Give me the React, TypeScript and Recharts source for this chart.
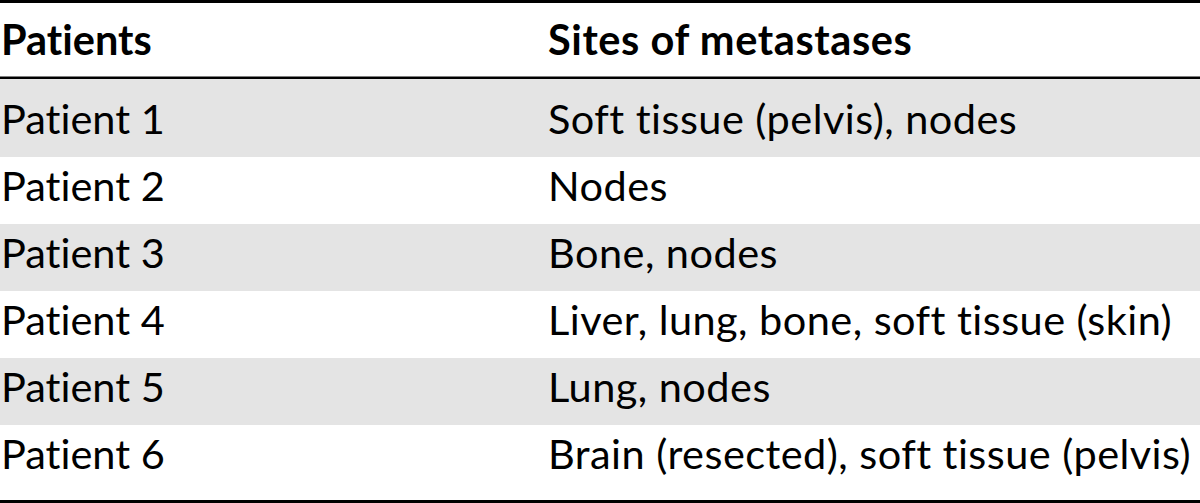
import { Bar, BarChart, Cell, LabelList, XAxis, YAxis } from "recharts";

const headers = ["Patients", "Sites of metastases"];
const patients = ["Patient 1", "Patient 2", "Patient 3", "Patient 4", "Patient 5", "Patient 6"];
const sites = [
  "Soft tissue (pelvis), nodes",
  "Nodes",
  "Bone, nodes",
  "Liver, lung, bone, soft tissue (skin)",
  "Lung, nodes",
  "Brain (resected), soft tissue (pelvis)",
];

const FONT = "Lato, 'Open Sans', sans-serif";
const FONT_SIZE = 41.5;
const SITE_X = 548;
const STRIPE = "#e4e4e4";
const noLig = { fontVariantLigatures: "none" } as const;

const rows = patients.map((p, i) => ({ patient: p, site: sites[i], band: 1 }));

// first stripe runs up under the header rule
function Stripe(props: any) {
  const { x, y, width, height, fill, index } = props;
  const top = index === 0 ? y - 11 : y;
  return <rect x={x} y={top} width={width} height={height + (y - top)} fill={fill} />;
}

function cellText(col: number) {
  return (props: any) => {
    const { x, y, height, value } = props;
    return (
      <text
        x={col === 0 ? x + 1 : x + SITE_X}
        y={y + height / 2 + 10}
        fontFamily={FONT}
        fontSize={FONT_SIZE}
        letterSpacing={col === 0 ? 0 : 0.45}
        fill="#000"
        style={noLig}
      >
        {value}
      </text>
    );
  };
}

export default function App() {
  return (
    <div style={{ position: "absolute", left: 0, top: 0, background: "#fff" }}>
      <BarChart
        width={1200}
        height={503}
        data={rows}
        layout="vertical"
        margin={{ top: 90, right: 0, bottom: 11, left: 0 }}
        barCategoryGap={0}
      >
        <XAxis type="number" domain={[0, 1]} hide />
        <YAxis type="category" dataKey="patient" hide />
        <Bar dataKey="band" isAnimationActive={false} shape={Stripe}>
          {rows.map((_, i) => (
            <Cell key={i} fill={i % 2 === 0 ? STRIPE : "#fff"} />
          ))}
          <LabelList dataKey="patient" content={cellText(0)} />
          <LabelList dataKey="site" content={cellText(1)} />
        </Bar>
        <text x={1} y={55} fontFamily={FONT} fontSize={FONT_SIZE} fontWeight={700} fill="#000" style={noLig}>
          {headers[0]}
        </text>
        <text
          x={SITE_X}
          y={55}
          fontFamily={FONT}
          fontSize={FONT_SIZE}
          fontWeight={700}
          letterSpacing={0.6}
          fill="#000"
          style={noLig}
        >
          {headers[1]}
        </text>
        <line x1={0} x2={1200} y1={1.5} y2={1.5} stroke="#000" strokeWidth={3} />
        <line x1={0} x2={1200} y1={78} y2={78} stroke="#000" strokeWidth={3} />
        <line x1={0} x2={1200} y1={501.5} y2={501.5} stroke="#000" strokeWidth={3} />
      </BarChart>
    </div>
  );
}
